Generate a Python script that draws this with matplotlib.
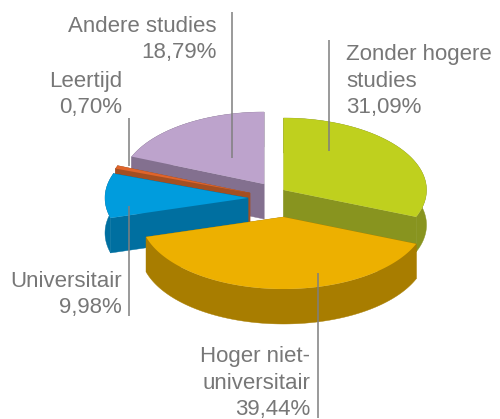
import numpy as np
import matplotlib
matplotlib.use("Agg")
import matplotlib.pyplot as plt
from matplotlib.patches import Polygon

categories = ["Zonder hogere\nstudies", "Hoger niet-\nuniversitair", "Universitair", "Leertijd", "Andere studies"]
values = [31.09, 39.44, 9.98, 0.70, 18.79]
top_colors = ["#BFD01E", "#EDB000", "#009CDD", "#E0642A", "#BDA3CC"]
side_colors = ["#88941F", "#A87D00", "#006FA0", "#A34F22", "#83708F"]
apexes = [(283.5, 190), (283.5, 217), (248, 198), (250, 193), (264, 184)]
draw_order = [4, 0, 3, 2, 1]
label_pos = [(346, 118, "left"), (310, 420, "right"), (122, 318, "right"), (122, 118, "right"), (217, 63, "right")]
leader_x = [329, 318, 129, 129, 232]
leader_y = [(40, 151), (273, 418), (206, 316), (118, 166), (12, 158)]

RX, RY, DEPTH = 143, 72, 35

fig = plt.figure(figsize=(5, 4.19), dpi=100)
ax = fig.add_axes([0, 0, 1, 1])
ax.set_xlim(0, 500)
ax.set_ylim(419, 0)
ax.axis("off")

sweeps = np.array(values) / np.sum(values) * 2 * np.pi
ends = np.pi / 2 - np.cumsum(sweeps)
starts = ends + sweeps


def arc(apex, a0, a1):
    t = np.linspace(a0, a1, 120)
    return np.column_stack([apex[0] + RX * np.cos(t), apex[1] - RY * np.sin(t)])


for i in draw_order:
    z = 2 + draw_order.index(i)
    apex = np.array(apexes[i], float)
    rim = arc(apex, starts[i], ends[i])
    drop = np.array([0, DEPTH])
    band = np.vstack([rim, (rim + drop)[::-1]])
    faces = [band,
             [apex, rim[0], rim[0] + drop, apex + drop],
             [apex, rim[-1], rim[-1] + drop, apex + drop]]
    for face in faces:
        ax.add_patch(Polygon(face, closed=True, fc=side_colors[i], ec=side_colors[i], lw=0.3, zorder=z))
    ax.add_patch(Polygon(np.vstack([apex, rim]), closed=True, fc=top_colors[i], ec="none", zorder=z + 0.5))

for x, (y0, y1) in zip(leader_x, leader_y):
    ax.plot([x, x], [y0, y1], color="#7f7f7f", lw=1.1, zorder=20, solid_capstyle="butt")

for name, v, (x, y, ha) in zip(categories, values, label_pos):
    txt = f"{name}\n{v:.2f}%".replace(".", ",")
    ax.text(x, y, txt, ha=ha, va="bottom", multialignment=ha, fontsize=16,
            family="Liberation Sans", color="#777777", linespacing=1.34, zorder=21)

fig.savefig("out.png", dpi=100)
